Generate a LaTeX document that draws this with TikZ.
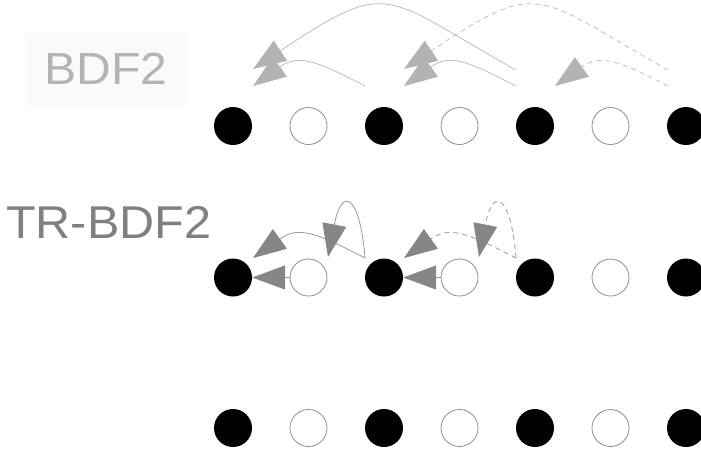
\documentclass[tikz,border=0pt]{standalone}
\usepackage{fontspec}
\setmainfont{Liberation Sans}
\usetikzlibrary{arrows.meta,calc}

\definecolor{lightink}{HTML}{B4B4B4}
\definecolor{darkink}{HTML}{808080}
\definecolor{lighthead}{HTML}{B3B3B3}
\definecolor{darkhead}{HTML}{868686}
\definecolor{lightline}{HTML}{BDBDBD}
\definecolor{darkline}{HTML}{999999}
\definecolor{ringgray}{HTML}{8E8E8E}
\definecolor{labelbg}{HTML}{FAFAFA}

\tikzset{
  fullpt/.style={circle, fill=black, minimum size=38pt, inner sep=0pt},
  halfpt/.style={circle, draw=ringgray, fill=white, line width=0.8pt, minimum size=37pt, inner sep=0pt},
  lightarrow/.style={draw=lightline, line width=0.8pt,
    -{Triangle[length=33pt,width=24pt,color=lighthead]}},
  darkarrow/.style={draw=darkline, line width=0.8pt,
    -{Triangle[length=33pt,width=24pt,color=darkhead]}},
  dashes/.style={dash pattern=on 5pt off 4pt},
  rowlabel/.style={font=\fontsize{45}{45}\selectfont, inner sep=0pt}
}

\begin{document}
\begin{tikzpicture}[x=1pt, y=-1pt]
  \useasboundingbox (0,0) rectangle (701,451);

  % three rows of time levels: full steps (filled) and half steps (open)
  \foreach \r/\yy in {a/126, b/277.5, c/428} {
    \foreach \i in {1,...,7} {
      \pgfmathsetmacro{\xx}{233 + 75.5*(\i-1)}
      \pgfmathparse{isodd(\i)}
      \ifnum\pgfmathresult=1
        \node[fullpt] (\r\i) at (\xx,\yy) {};
      \else
        \node[halfpt] (\r\i) at (\xx,\yy) {};
      \fi
    }
  }

  % labels
  \node[rowlabel, fill=labelbg, minimum width=162pt, minimum height=72pt,
        text=lightink] (lbdf) at (106,69) {\scalebox{1.07}[1]{BDF2}};
  \node[rowlabel, anchor=base west, text=darkink, font=\fontsize{46}{46}\selectfont]
        (ltr) at (6,238) {\scalebox{1.055}[1]{TR-BDF2}};

  % BDF2: each new step uses the two previous full steps
  \coordinate (a5hi) at ($(a5)+(-19,-56)$);
  \coordinate (a5lo) at ($(a5)+(-19,-40)$);
  \coordinate (a7hi) at ($(a7)+(-18,-56)$);
  \coordinate (a7lo) at ($(a7)+(-18,-40)$);
  \coordinate (a3lo) at ($(a3)+(-19,-40)$);
  \coordinate (a1hi) at ($(a1)+(20,-57)$);
  \coordinate (a1lo) at ($(a1)+(20,-40)$);
  \coordinate (a3hi) at ($(a3)+(20,-57)$);
  \coordinate (a3in) at ($(a3)+(20,-40)$);
  \coordinate (a5in) at ($(a5)+(20,-40)$);

  \draw[lightarrow] (a5hi) .. controls +(-134,-75) and +(138,-92) .. (a1hi);
  \draw[lightarrow] (a3lo) .. controls +(-50,-26) and +(45,-32) .. (a1lo);
  \draw[lightarrow] (a5lo) .. controls +(-50,-26) and +(45,-32) .. (a3in);
  \draw[lightarrow, dashes] (a7hi) .. controls +(-134,-75) and +(138,-92) .. (a3hi);
  \draw[lightarrow, dashes] (a7lo) .. controls +(-50,-26) and +(45,-32) .. (a5in);

  % TR-BDF2: trapezoidal half step, then BDF2 over the half steps
  \coordinate (b3s) at ($(b3)+(-19,-19.5)$);
  \coordinate (b5s) at ($(b5)+(-19,-19.5)$);
  \coordinate (b1e) at ($(b1)+(20,-19.5)$);
  \coordinate (b3e) at ($(b3)+(20,-19.5)$);
  \coordinate (b2e) at ($(b2)+(19.5,-20.5)$);
  \coordinate (b4e) at ($(b4)+(19.5,-20.5)$);

  \draw[darkarrow] (b2.west) -- (b1.east);
  \draw[darkarrow] (b4.west) -- (b3.east);
  \draw[darkarrow] (b3s) .. controls +(-50,-26) and +(45,-32) .. (b1e);
  \draw[darkarrow] (b3s) .. controls +(-5,-63) and +(14,-72) .. (b2e);
  \draw[darkarrow, dashes] (b5s) .. controls +(-50,-26) and +(45,-32) .. (b3e);
  \draw[darkarrow, dashes] (b5s) .. controls +(-5,-63) and +(14,-72) .. (b4e);
\end{tikzpicture}
\end{document}
